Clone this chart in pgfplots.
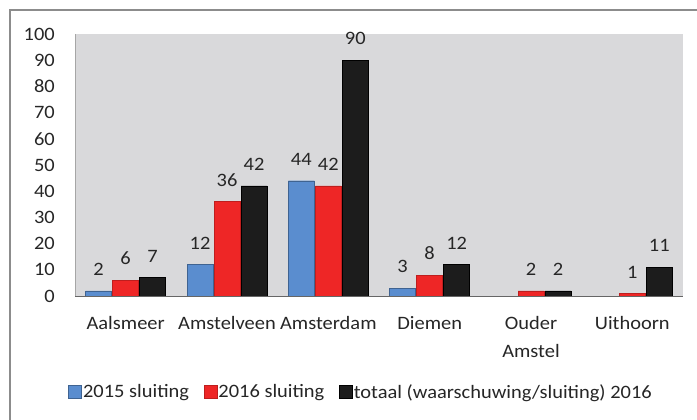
\documentclass[border=0pt]{standalone}
\usepackage{fontspec}
\setmainfont{Carlito}[FakeStretch=1.08]
\usepackage{pgfplots}
\pgfplotsset{compat=1.18}
\definecolor{wallgray}{HTML}{D9D9DB}
\definecolor{sblue}{HTML}{5A8DCF}
\definecolor{sred}{HTML}{EE2626}
\definecolor{sblack}{HTML}{1C1C1C}
\definecolor{framegray}{HTML}{8C8C8C}
\begin{document}
\begin{tikzpicture}[x=1bp,y=1bp]
\useasboundingbox (0,0) rectangle (697,419);
\draw[framegray, line width=1.5bp] (10,-5) -- (10,409) -- (705,409);
\begin{axis}[
  at={(75bp,123bp)}, anchor=south west,
  scale only axis, width=608bp, height=262bp,
  xmin=-0.5, xmax=5.5, ymin=0, ymax=100,
  ytick={0,10,...,100},
  xtick={0,1,2,3,4,5},
  xticklabels={Aalsmeer,Amstelveen,Amsterdam,Diemen,{Ouder\\[3bp]Amstel},Uithoorn},
  major tick length=0pt,
  axis line style={draw=none},
  axis background/.style={fill=wallgray},
  /pgf/number format/assume math mode=true,
  ticklabel style={font=\fontsize{19}{25}\selectfont, text=black!85},
  yticklabel style={inner sep=0pt, anchor=east, xshift=-20bp},
  xticklabel style={inner sep=0pt, anchor=north, align=center, yshift=-20bp},
  ybar, bar width=26bp,
  nodes near coords,
  every node near coord/.append style={font=\fontsize{19}{23}\selectfont, text=black!85, inner sep=0pt, anchor=south, yshift=15bp},
  legend style={at={(0.47,-0.366)}, anchor=center, draw=none, fill=none,
    font=\fontsize{19}{23}\selectfont, text=black!85,
    legend columns=3, inner sep=0pt,
    nodes={inner sep=1.5bp},
    /tikz/every even column/.append style={column sep=13bp}},
  legend image code/.code={\fill[#1] (0bp,-6.5bp) rectangle (13bp,6.5bp);},
  after end axis/.code={
    \draw[gray!80!black, line width=1bp] (rel axis cs:0,0) -- (rel axis cs:1,0);
    \draw[gray!70, line width=1bp] (rel axis cs:0,0) -- (rel axis cs:0,1);},
]
\addplot[fill=sblue, draw=sblue!70!black, bar shift=-27bp] coordinates {(0,2) (1,12) (2,44) (3,3)};
\addplot[fill=sred, draw=sred!80!black, bar shift=0bp] coordinates {(0,6) (1,36) (2,42) (3,8) (4,2) (5,1)};
\addplot[fill=sblack, draw=black, bar shift=27bp] coordinates {(0,7) (1,42) (2,90) (3,12) (4,2) (5,11)};
\legend{2015 sluiting, 2016 sluiting, totaal (waarschuwing/sluiting) 2016}
\end{axis}
\end{tikzpicture}
\end{document}
